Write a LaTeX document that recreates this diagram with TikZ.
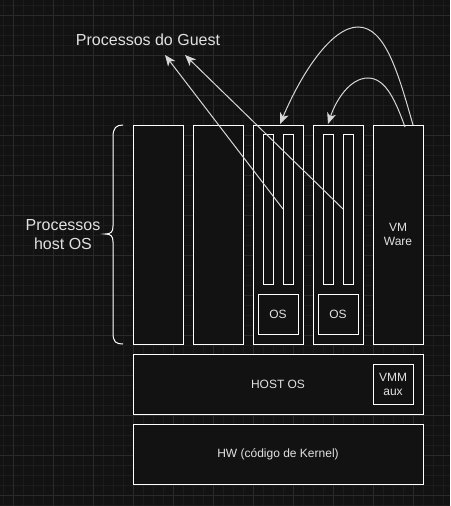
\documentclass[tikz,border=0pt]{standalone}
\usepackage{fontspec}
\setmainfont{Liberation Sans}
\usetikzlibrary{arrows.meta}
\definecolor{bg}{RGB}{18,18,18}
\definecolor{gmin}{RGB}{28,28,28}
\definecolor{gmaj}{RGB}{42,42,42}
\definecolor{txt}{RGB}{225,225,225}
\definecolor{arr}{RGB}{215,215,215}
\tikzset{
  box/.style={draw=white, fill=bg, line width=1pt, inner sep=0pt, outer sep=0pt},
  lbl/.style={text=txt, font=\fontsize{12}{14}\selectfont, align=center, inner sep=0pt},
  biglbl/.style={text=txt, font=\fontsize{16}{19}\selectfont, align=center, inner sep=0pt},
  arrowline/.style={draw=arr, line width=1pt, -{Stealth[length=11pt,width=9pt,inset=3pt]}},
}
\begin{document}
\begin{tikzpicture}[x=1pt,y=-1pt]
\fill[bg] (0,0) rectangle (450,506);
\useasboundingbox (0,0) rectangle (450,506);
% grid
\foreach \x in {3,13,...,450} \draw[gmin, line width=0.6pt] (\x,0) -- (\x,506);
\foreach \y in {5,15,...,506} \draw[gmin, line width=0.6pt] (0,\y) -- (450,\y);
\foreach \x in {13,53,...,450} \draw[gmaj, line width=0.8pt] (\x,0) -- (\x,506);
\foreach \y in {15,55,...,506} \draw[gmaj, line width=0.8pt] (0,\y) -- (450,\y);

% columns
\draw[box] (133,125) rectangle (183,344);
\draw[box] (193,125) rectangle (243,344);
\draw[box] (253,125) rectangle (303,344);
\draw[box] (313,125) rectangle (363,344);
\draw[box] (373,125) rectangle (423,344);
\node[lbl] (vmware) at (398,234) {VM\\Ware};

% inner bars
\draw[box] (263,134) rectangle (273,284);
\draw[box] (283,134) rectangle (293,284);
\draw[box] (323,134) rectangle (333,284);
\draw[box] (343,134) rectangle (353,284);
\draw[box] (258,294) rectangle (298,334);
\node[lbl] (os1) at (278,314) {OS};
\draw[box] (318,294) rectangle (358,334);
\node[lbl] (os2) at (338,314) {OS};

% host os
\draw[box] (133,354) rectangle (423,414);
\node[lbl] (hostos) at (278,384) {HOST OS};
\draw[box] (373,364) rectangle (413,404);
\node[lbl] (vmm) at (393,384) {VMM\\aux};

% hw
\draw[box] (133,424) rectangle (423,484);
\node[lbl] (hw) at (278,454) {HW (código de Kernel)};

% labels
\node[biglbl] (guest) at (148,40) {Processos do Guest};
\node[biglbl] (hostproc) at (63,235) {Processos\\host OS};

% brace
\draw[white, line width=1pt] (123,125) .. controls (116,125) and (113,128) .. (113,137)
  -- (113,226) .. controls (113,232) and (111,234) .. (105,234)
  .. controls (111,234) and (113,236) .. (113,242)
  -- (113,333) .. controls (113,342) and (116,344) .. (123,344);

% coordinates
\coordinate (p1s) at (283,209);
\coordinate (p1e) at (165,55);
\coordinate (p2s) at (343,209);
\coordinate (p2e) at (185,55);
\coordinate (c1s) at (413,125);
\coordinate (c1e) at (280,124);
\coordinate (c2s) at (405,127);
\coordinate (c2e) at (328,124);

\draw[arrowline] (p1s) -- (p1e);
\draw[arrowline] (p2s) -- (p2e);
\draw[arrowline] (c1s) .. controls (398,72) and (385,27) .. (358,27)
  .. controls (332,27) and (302,72) .. (c1e);
\draw[arrowline] (c2s) .. controls (396,102) and (386,78) .. (368,78)
  .. controls (350,78) and (336,100) .. (c2e);
\end{tikzpicture}
\end{document}
